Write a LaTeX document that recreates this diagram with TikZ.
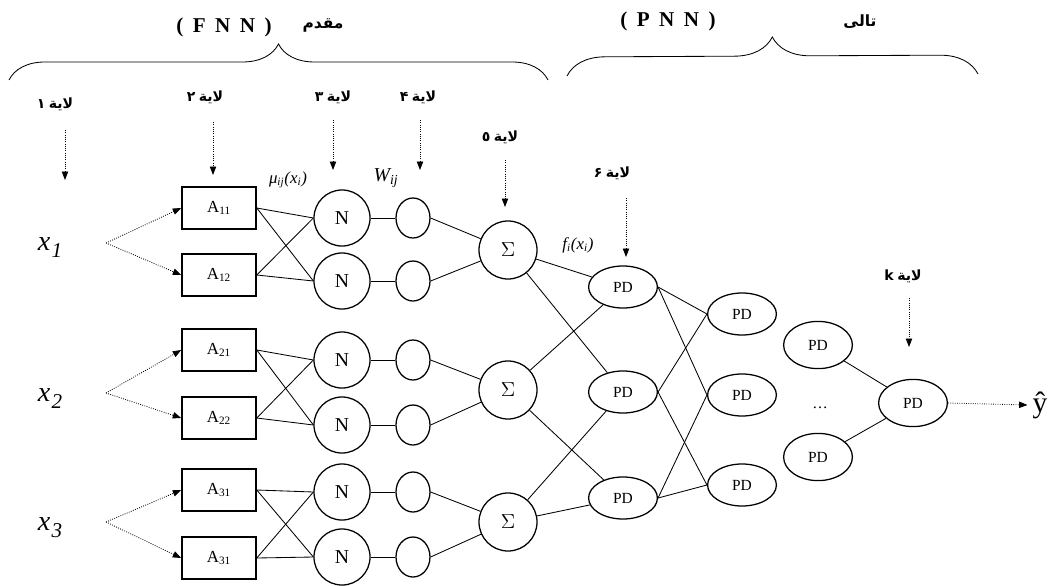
\documentclass[tikz,border=0pt]{standalone}
\usepackage{fontspec}
\setmainfont{Liberation Serif}
\newfontfamily\arabicfont[Script=Arabic]{DejaVu Sans}
\TeXXeTstate=1
\usetikzlibrary{arrows.meta,shapes.geometric,decorations.pathreplacing}
\newcommand{\lyr}[1]{{\arabicfont #1}\ {\arabicfont\beginR لاية\endR}}
\newcommand{\xin}[1]{x\kern1pt\raisebox{-5pt}{\fontsize{15}{15}\selectfont #1}}
\newcommand{\fs}[1]{\fontsize{#1}{#1}\selectfont}

\begin{document}
\begin{tikzpicture}[x=0.025cm, y=-0.025cm, line width=0.6pt,
  mf/.style={draw, line width=1.1pt, minimum width=1.85cm, minimum height=1.05cm, inner sep=0pt, font=\fs{12}},
  nrm/.style={draw, circle, line width=0.9pt, minimum size=1.4cm, inner sep=0pt, font=\fs{14}},
  sigma/.style={nrm, minimum size=1.45cm},
  wgt/.style={draw, ellipse, line width=0.9pt, minimum width=0.85cm, minimum height=1.0cm, inner sep=0pt},
  pd/.style={draw, ellipse, line width=0.9pt, minimum width=1.72cm, minimum height=1.05cm, inner sep=0pt, font=\fs{11}},
  pdbig/.style={pd, minimum height=1.18cm},
  lbl/.style={font=\fs{10}\bfseries},
  invar/.style={font=\fs{20}\itshape},
  pointer/.style={densely dotted, -{Triangle[length=6pt, width=4.5pt]}},
]
\useasboundingbox (0,0) rectangle (1051,585);

% braces and titles
\draw[decorate, decoration={brace, amplitude=0.9cm}] (9,80) -- (548,80);
\draw[decorate, decoration={brace, amplitude=0.95cm}] (567,76) -- (978,74);
\node[font=\bfseries\fs{15}] (fnn) at (224,27) {(\hspace{.45em}F\hspace{.45em}N\hspace{.45em}N\hspace{.45em})};
\node[font=\fs{11}\bfseries] (pre) at (323,25) {\arabicfont\beginR مقدم\endR};
\node[font=\bfseries\fs{15}] (pnn) at (668,21) {(\hspace{.45em}P\hspace{.45em}N\hspace{.45em}N\hspace{.45em})};
\node[font=\fs{11}\bfseries] (post) at (860,22) {\arabicfont\beginR تالی\endR};

% layer labels
\foreach \d/\lx/\ly/\ax/\at/\ah [count=\n] in {۱/55/104/65/130/180, ۲/205/97/213/122/175, ۳/333/97/333/120/170, ۴/418/97/420/120/170, ٥/500/137/505/160/207, ۶/612/173/626/198/257} {
  \node[lbl] (L\n) at (\lx,\ly) {\lyr{\d}};
  \coordinate (L\n t) at (\ax,\at);
  \coordinate (L\n h) at (\ax,\ah);
  \draw[pointer] (L\n t) -- (L\n h);
}
\node[lbl] (Lk) at (903,276) {\lyr{k}};
\coordinate (Lkt) at (909,298);
\coordinate (Lkh) at (909,347);
\draw[pointer] (Lkt) -- (Lkh);

% fuzzy part (FNN)
\foreach \i/\xy/\fy/\ya/\yb/\k/\na/\nb/\sy in {1/248/243/208/275/2/218/281/250, 2/399/393/350/418/2/360/425/390, 3/528/522/490/558/1/492/557/522} {
  \node[invar] (x\i) at (50,\xy) {\xin{\i}};
  \coordinate (f\i) at (106,\fy);
  \node[mf] (A\i1) at (219,\ya) {A\textsubscript{\i1}};
  \node[mf] (A\i2) at (219,\yb) {A\textsubscript{\i\k}};
  \node[nrm] (N\i1) at (342,\na) {N};
  \node[nrm] (N\i2) at (342,\nb) {N};
  \node[wgt] (W\i1) at (413,\na) {};
  \node[wgt] (W\i2) at (413,\nb) {};
  \node[sigma] (S\i) at (508,\sy) {$\Sigma$};
  \draw[pointer] (f\i) -- (A\i1.west);
  \draw[pointer] (f\i) -- (A\i2.west);
  \foreach \a in {1,2} \foreach \b in {1,2} \draw (A\i\a.east) -- (N\i\b.west);
  \draw (N\i1.east) -- (W\i1.west);
  \draw (N\i2.east) -- (W\i2.west);
  \draw (W\i1.east) -- (S\i);
  \draw (W\i2.east) -- (S\i);
}
\node[font=\fs{12}\itshape] (mu) at (288,180) {μ\textsubscript{ij}(x\textsubscript{i})};
\node[font=\fs{14}\itshape] (wij) at (386,178) {W\textsubscript{ij}};
\node[font=\fs{12}\itshape] (fx) at (578,245) {f\textsubscript{i}(x\textsubscript{i})};

% polynomial part (PNN)
\foreach \i/\y in {1/287, 2/392, 3/498} \node[pd] (P\i) at (623,\y) {PD};
\foreach \i/\y in {1/314, 2/395, 3/485} \node[pd] (Q\i) at (742,\y) {PD};
\node[pdbig] (R1) at (818,345) {PD};
\node[pdbig] (R2) at (818,457) {PD};
\node[font=\fs{11}] (dots) at (820,408) {\ldots};
\node[pdbig] (F) at (913,403) {PD};
\node[font=\fs{21}] (yhat) at (1040,405) {ŷ};

\foreach \a/\b in {1/1, 1/2, 2/1, 2/3, 3/2, 3/3} \draw (S\a) -- (P\b);
\foreach \a/\b in {1/1, 1/2, 2/1, 2/3, 3/2, 3/3} \draw (P\a.east) -- (Q\b.west);
\draw (R1) -- (F);
\draw (R2) -- (F);
\draw[pointer] (F.east) -- (yhat.west);
\end{tikzpicture}
\end{document}
